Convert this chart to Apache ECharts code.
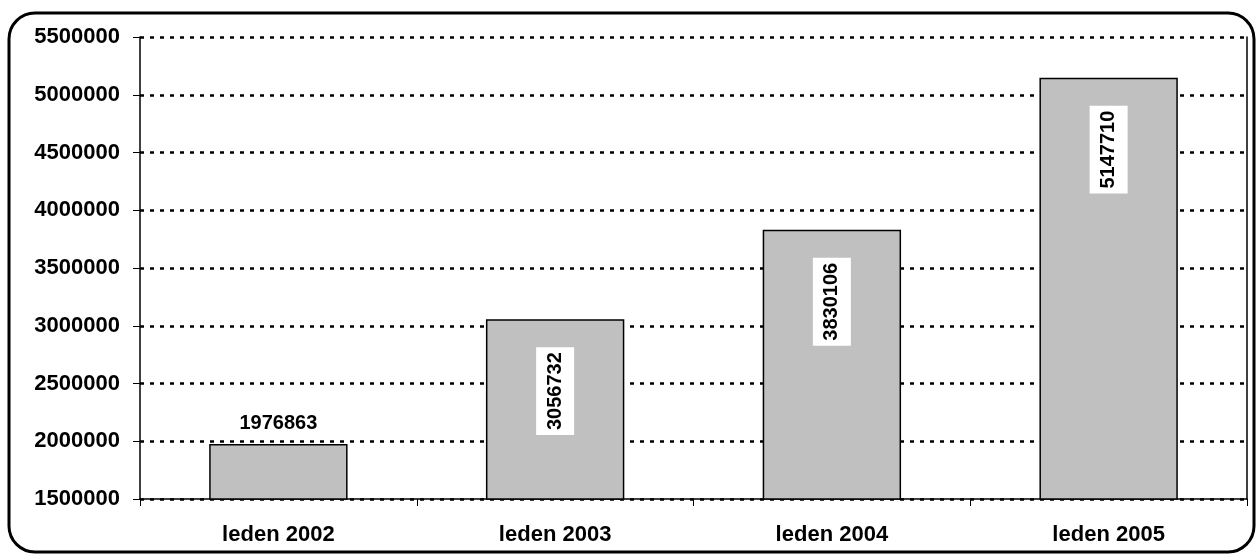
<!DOCTYPE html>
<html>
<head>
<meta charset="utf-8">
<script src="https://cdn.jsdelivr.net/npm/echarts@6/dist/echarts.min.js"></script>
<style>
  html, body { margin: 0; padding: 0; background: #fff; }
  #chart { width: 1256px; height: 554px; }
</style>
</head>
<body>
<div id="chart"></div>
<script>
// Monthly totals for January of each year
const categories = ['leden 2002', 'leden 2003', 'leden 2004', 'leden 2005'];
const values = [1976863, 3056732, 3830106, 5147710];
const yMin = 1500000;
const yMax = 5500000;
const yStep = 500000;

const FONT = '"Liberation Sans", Arial, sans-serif';

const chart = echarts.init(document.getElementById('chart'), null, { renderer: 'canvas' });

// First bar: value above; the others: rotated value on a white box inside the bar
const barData = values.map((v, i) => {
  if (i === 0) {
    return {
      value: v,
      label: {
        show: true, position: 'top', distance: 10,
        color: '#000', fontFamily: FONT, fontWeight: 'bold', fontSize: 20
      }
    };
  }
  return {
    value: v,
    label: {
      show: true, position: 'insideTop', rotate: 90, distance: 28,
      align: 'right', verticalAlign: 'middle',
      color: '#000', fontFamily: FONT, fontWeight: 'bold', fontSize: 20,
      backgroundColor: '#fff', padding: [9, 5, 9, 5]
    }
  };
});

chart.setOption({
  animation: false,
  backgroundColor: '#fff',
  grid: { left: 140, right: 9, top: 37, bottom: 55, containLabel: false },
  graphic: [{
    type: 'rect',
    shape: { x: 9, y: 13, width: 1245, height: 539, r: 26 },
    style: { fill: 'none', stroke: '#000', lineWidth: 3 },
    silent: true, z: 100
  }],
  xAxis: {
    type: 'category',
    data: categories,
    axisLine: { show: true, lineStyle: { color: '#000', width: 1.5 } },
    axisTick: { show: true, alignWithLabel: false, length: 7, lineStyle: { color: '#000', width: 1 } },
    axisLabel: { color: '#000', fontFamily: FONT, fontWeight: 'bold', fontSize: 22, margin: 25 },
    splitLine: { show: false }
  },
  yAxis: [{
    type: 'value',
    min: yMin, max: yMax, interval: yStep,
    axisLine: { show: true, lineStyle: { color: '#000', width: 1.5 } },
    axisTick: { show: true, length: 7, lineStyle: { color: '#000', width: 1 } },
    axisLabel: {
      color: '#000', fontFamily: FONT, fontWeight: 'bold', fontSize: 22, margin: 20,
      formatter: (v) => String(v)
    },
    splitLine: { show: true, lineStyle: { color: '#000', width: 2.5, type: [4, 6] } }
  }, {
    type: 'value',
    position: 'right',
    min: yMin, max: yMax, interval: yStep,
    axisLine: { show: true, lineStyle: { color: '#000', width: 1.5 } },
    axisTick: { show: false },
    axisLabel: { show: false },
    splitLine: { show: false }
  }],
  series: [{
    type: 'bar',
    data: barData,
    barWidth: '50%',
    itemStyle: { color: '#c0c0c0', borderColor: '#000', borderWidth: 1.5 }
  }]
});
</script>
</body>
</html>
